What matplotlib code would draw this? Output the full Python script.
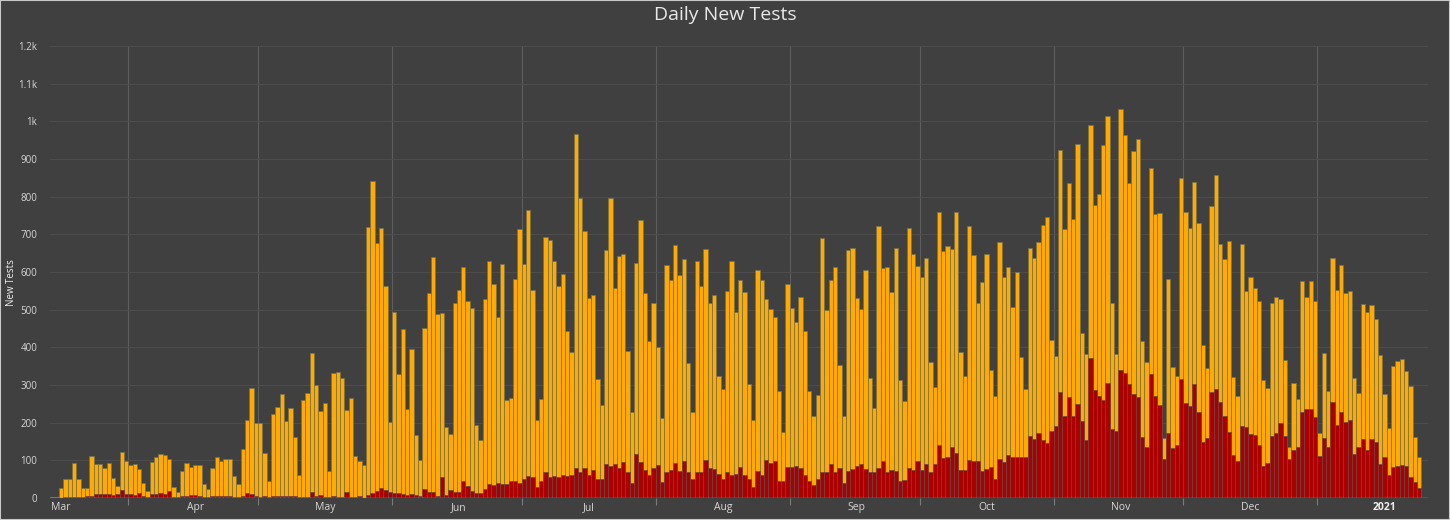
# -*- coding: utf-8 -*-
import matplotlib
matplotlib.use('Agg')
import matplotlib.pyplot as plt
import matplotlib.ticker as mtick
import pandas as pd
from matplotlib.patches import Rectangle

plt.rcParams['font.family'] = ['Open Sans', 'DejaVu Sans']

#----- data, one bar per day from 2020-03-14
start_date = '2020-03-14'

total_tests = [
    # Mar 14-31
    2, 3, 26, 50, 50, 92, 50, 27, 27, 111, 89, 89, 80, 92, 53, 33, 121, 98,
    # Apr
    88, 90, 77, 41, 19, 96, 108, 118, 115, 104, 30, 15, 72, 92, 82, 88, 88, 38, 24, 79,
    109, 99, 103, 104, 59, 37, 129, 207, 291, 200,
    # May
    200, 120, 45, 223, 242, 275, 205, 240, 161, 61, 260, 280, 386, 299, 232, 252, 72, 333, 335, 318,
    233, 265, 111, 98, 88, 719, 842, 678, 716, 562, 201,
    # Jun
    494, 328, 448, 235, 396, 168, 101, 452, 545, 639, 488, 492, 189, 170, 519, 552, 613, 522, 505, 194,
    154, 528, 630, 567, 481, 622, 260, 265, 581, 714,
    # Jul
    622, 764, 552, 206, 263, 692, 685, 629, 564, 596, 444, 388, 967, 796, 710, 532, 539, 317, 246, 658,
    796, 558, 643, 648, 391, 227, 624, 738, 543, 416, 519,
    # Aug
    400, 213, 618, 580, 673, 591, 635, 358, 227, 628, 563, 662, 519, 538, 324, 289, 550, 628, 493, 578,
    548, 302, 208, 605, 579, 527, 503, 481, 285, 176, 568,
    # Sep
    505, 466, 533, 443, 285, 218, 273, 689, 499, 580, 612, 353, 218, 658, 663, 530, 501, 605, 318, 238,
    723, 611, 614, 548, 665, 314, 258, 716, 648, 616,
    # Oct
    586, 636, 362, 296, 758, 655, 668, 660, 759, 388, 323, 722, 645, 519, 574, 649, 340, 271, 680, 587,
    613, 506, 599, 375, 289, 665, 638, 679, 724, 747, 419,
    # Nov
    378, 924, 714, 837, 741, 941, 437, 381, 990, 779, 807, 936, 1015, 519, 382, 1034, 964, 835, 922, 954,
    417, 361, 875, 754, 756, 158, 581, 349, 324, 849,
    # Dec
    758, 716, 840, 730, 405, 346, 776, 857, 675, 634, 683, 322, 271, 674, 550, 587, 558, 524, 314, 292,
    518, 534, 528, 367, 136, 306, 262, 577, 534, 577, 523,
    # Jan 2021
    172, 384, 285, 637, 552, 618, 543, 550, 318, 280, 515, 494, 513, 476, 380, 276, 185, 350, 365, 369,
    338, 298, 163, 110,
]

positive_tests = [
    # Mar 14-31
    1, 0, 1, 3, 2, 2, 3, 3, 5, 5, 10, 10, 10, 10, 8, 10, 20, 10,
    # Apr
    10, 8, 13, 4, 2, 10, 10, 13, 10, 18, 3, 3, 4, 4, 8, 8, 4, 3, 2, 4,
    4, 5, 4, 4, 3, 2, 5, 12, 10, 4,
    # May
    3, 4, 3, 4, 5, 4, 4, 5, 4, 2, 3, 3, 15, 5, 8, 3, 3, 5, 3, 3,
    15, 3, 3, 5, 1, 8, 12, 18, 26, 22, 15,
    # Jun
    14, 12, 10, 8, 10, 8, 5, 25, 15, 17, 5, 55, 8, 20, 15, 17, 46, 32, 18, 12,
    12, 25, 37, 35, 40, 38, 37, 44, 46, 41,
    # Jul
    51, 58, 56, 30, 45, 70, 57, 58, 57, 62, 58, 60, 80, 68, 80, 60, 75, 50, 50, 90,
    85, 90, 80, 95, 70, 40, 117, 95, 75, 60, 80,
    # Aug
    88, 42, 70, 75, 92, 72, 97, 70, 50, 70, 68, 100, 80, 77, 65, 50, 70, 60, 65, 83,
    62, 50, 30, 72, 60, 100, 93, 98, 45, 45, 82,
    # Sep
    82, 85, 80, 62, 45, 35, 50, 68, 68, 90, 70, 80, 40, 72, 78, 85, 90, 78, 68, 68,
    80, 97, 70, 75, 73, 45, 48, 80, 74, 98,
    # Oct
    75, 90, 70, 90, 141, 105, 108, 135, 120, 75, 75, 102, 98, 98, 72, 77, 82, 50, 103, 95,
    114, 108, 108, 110, 110, 164, 157, 173, 155, 145, 178,
    # Nov
    192, 282, 218, 269, 218, 249, 205, 154, 371, 288, 271, 260, 306, 182, 179, 340, 331, 303, 276, 269,
    163, 135, 328, 271, 247, 104, 173, 132, 141, 315,
    # Dec
    253, 244, 302, 227, 150, 158, 281, 289, 256, 218, 176, 114, 99, 191, 189, 170, 166, 141, 86, 94,
    165, 172, 198, 165, 103, 127, 135, 227, 235, 235, 214,
    # Jan 2021
    112, 160, 135, 256, 194, 227, 203, 207, 116, 135, 157, 127, 156, 150, 89, 110, 61, 81, 84, 87,
    84, 57, 42, 26,
]

month_labels = ['Mar', 'Apr', 'May', 'Jun', 'Jul', 'Aug', 'Sep', 'Oct', 'Nov', 'Dec', '2021']
y_ticks = [0, 100, 200, 300, 400, 500, 600, 700, 800, 900, 1000, 1100, 1200]

#-----
BG = '#404040'
ORANGE = '#ffaa00'
RED = '#aa0000'

dates = pd.date_range(start_date, periods=len(total_tests), freq='D')

fig = plt.figure(figsize=(14.5, 5.2), dpi=100, facecolor=BG)
ax = fig.add_axes([50 / 1450, 22 / 520, 1378 / 1450, 452 / 520])
ax.set_facecolor(BG)

ax.bar(dates, total_tests, width=1.0, align='edge', color=ORANGE,
       edgecolor='#77704a', linewidth=0.5, zorder=2)
ax.bar(dates, positive_tests, width=1.0, align='edge', color=RED,
       edgecolor='#704444', linewidth=0.5, zorder=3)

# y axis
ax.set_yticks(y_ticks)
ax.yaxis.set_major_formatter(mtick.FuncFormatter(
    lambda v, pos: f'{v / 1000:g}k' if v >= 1000 else f'{int(v)}'))
ax.tick_params(axis='y', length=0, pad=9, labelsize=7, labelcolor='#d6d6d6')
ax.grid(axis='y', color='#4c4c4c', linewidth=0.8, zorder=0)

# x axis: grid at month starts, labels in the middle of each month
month_starts = pd.date_range('2020-04-01', '2021-01-01', freq='MS')
ax.set_xticks(month_starts)
ax.set_xticklabels([''] * len(month_starts))
ax.tick_params(axis='x', which='major', length=5, width=0.8, color='#7a7a7a')
ax.grid(axis='x', which='major', color='#5e5e5e', linewidth=0.8, zorder=0)

label_pos = pd.date_range('2020-03-01', periods=len(month_labels), freq='MS') + pd.Timedelta(days=15, hours=12)
ax.set_xticks(label_pos, month_labels, minor=True)
ax.tick_params(axis='x', which='minor', length=0, pad=3, labelsize=7.5, labelcolor='#d6d6d6')
for lab in ax.get_xticklabels(minor=True):
    if lab.get_text() == '2021':
        lab.set_fontweight('bold')
        lab.set_color('#f0f0f0')

ax.set_ylim(0, 1200)
ax.set_xlim(pd.Timestamp('2020-03-14') - pd.Timedelta(hours=2),
            pd.Timestamp('2021-01-26 14:00'))

for s in ax.spines.values():
    s.set_visible(False)
ax.axhline(0, color='#9a9a9a', linewidth=1, zorder=4)

fig.text(0.5, 1 - 15 / 520, 'Daily New Tests', ha='center', va='center',
         fontsize=14, color='#e8e8e8')
fig.text(12 / 1450, 1 - 283 / 520, 'New Tests', rotation=90, ha='center', va='center',
         fontsize=7, color='#f0f0f0')

fig.patches.append(Rectangle((0, 0), 1, 1, transform=fig.transFigure, fill=False,
                             edgecolor='#c8c8c8', linewidth=1.5))

plt.savefig('out.png', dpi=100, facecolor=BG)
